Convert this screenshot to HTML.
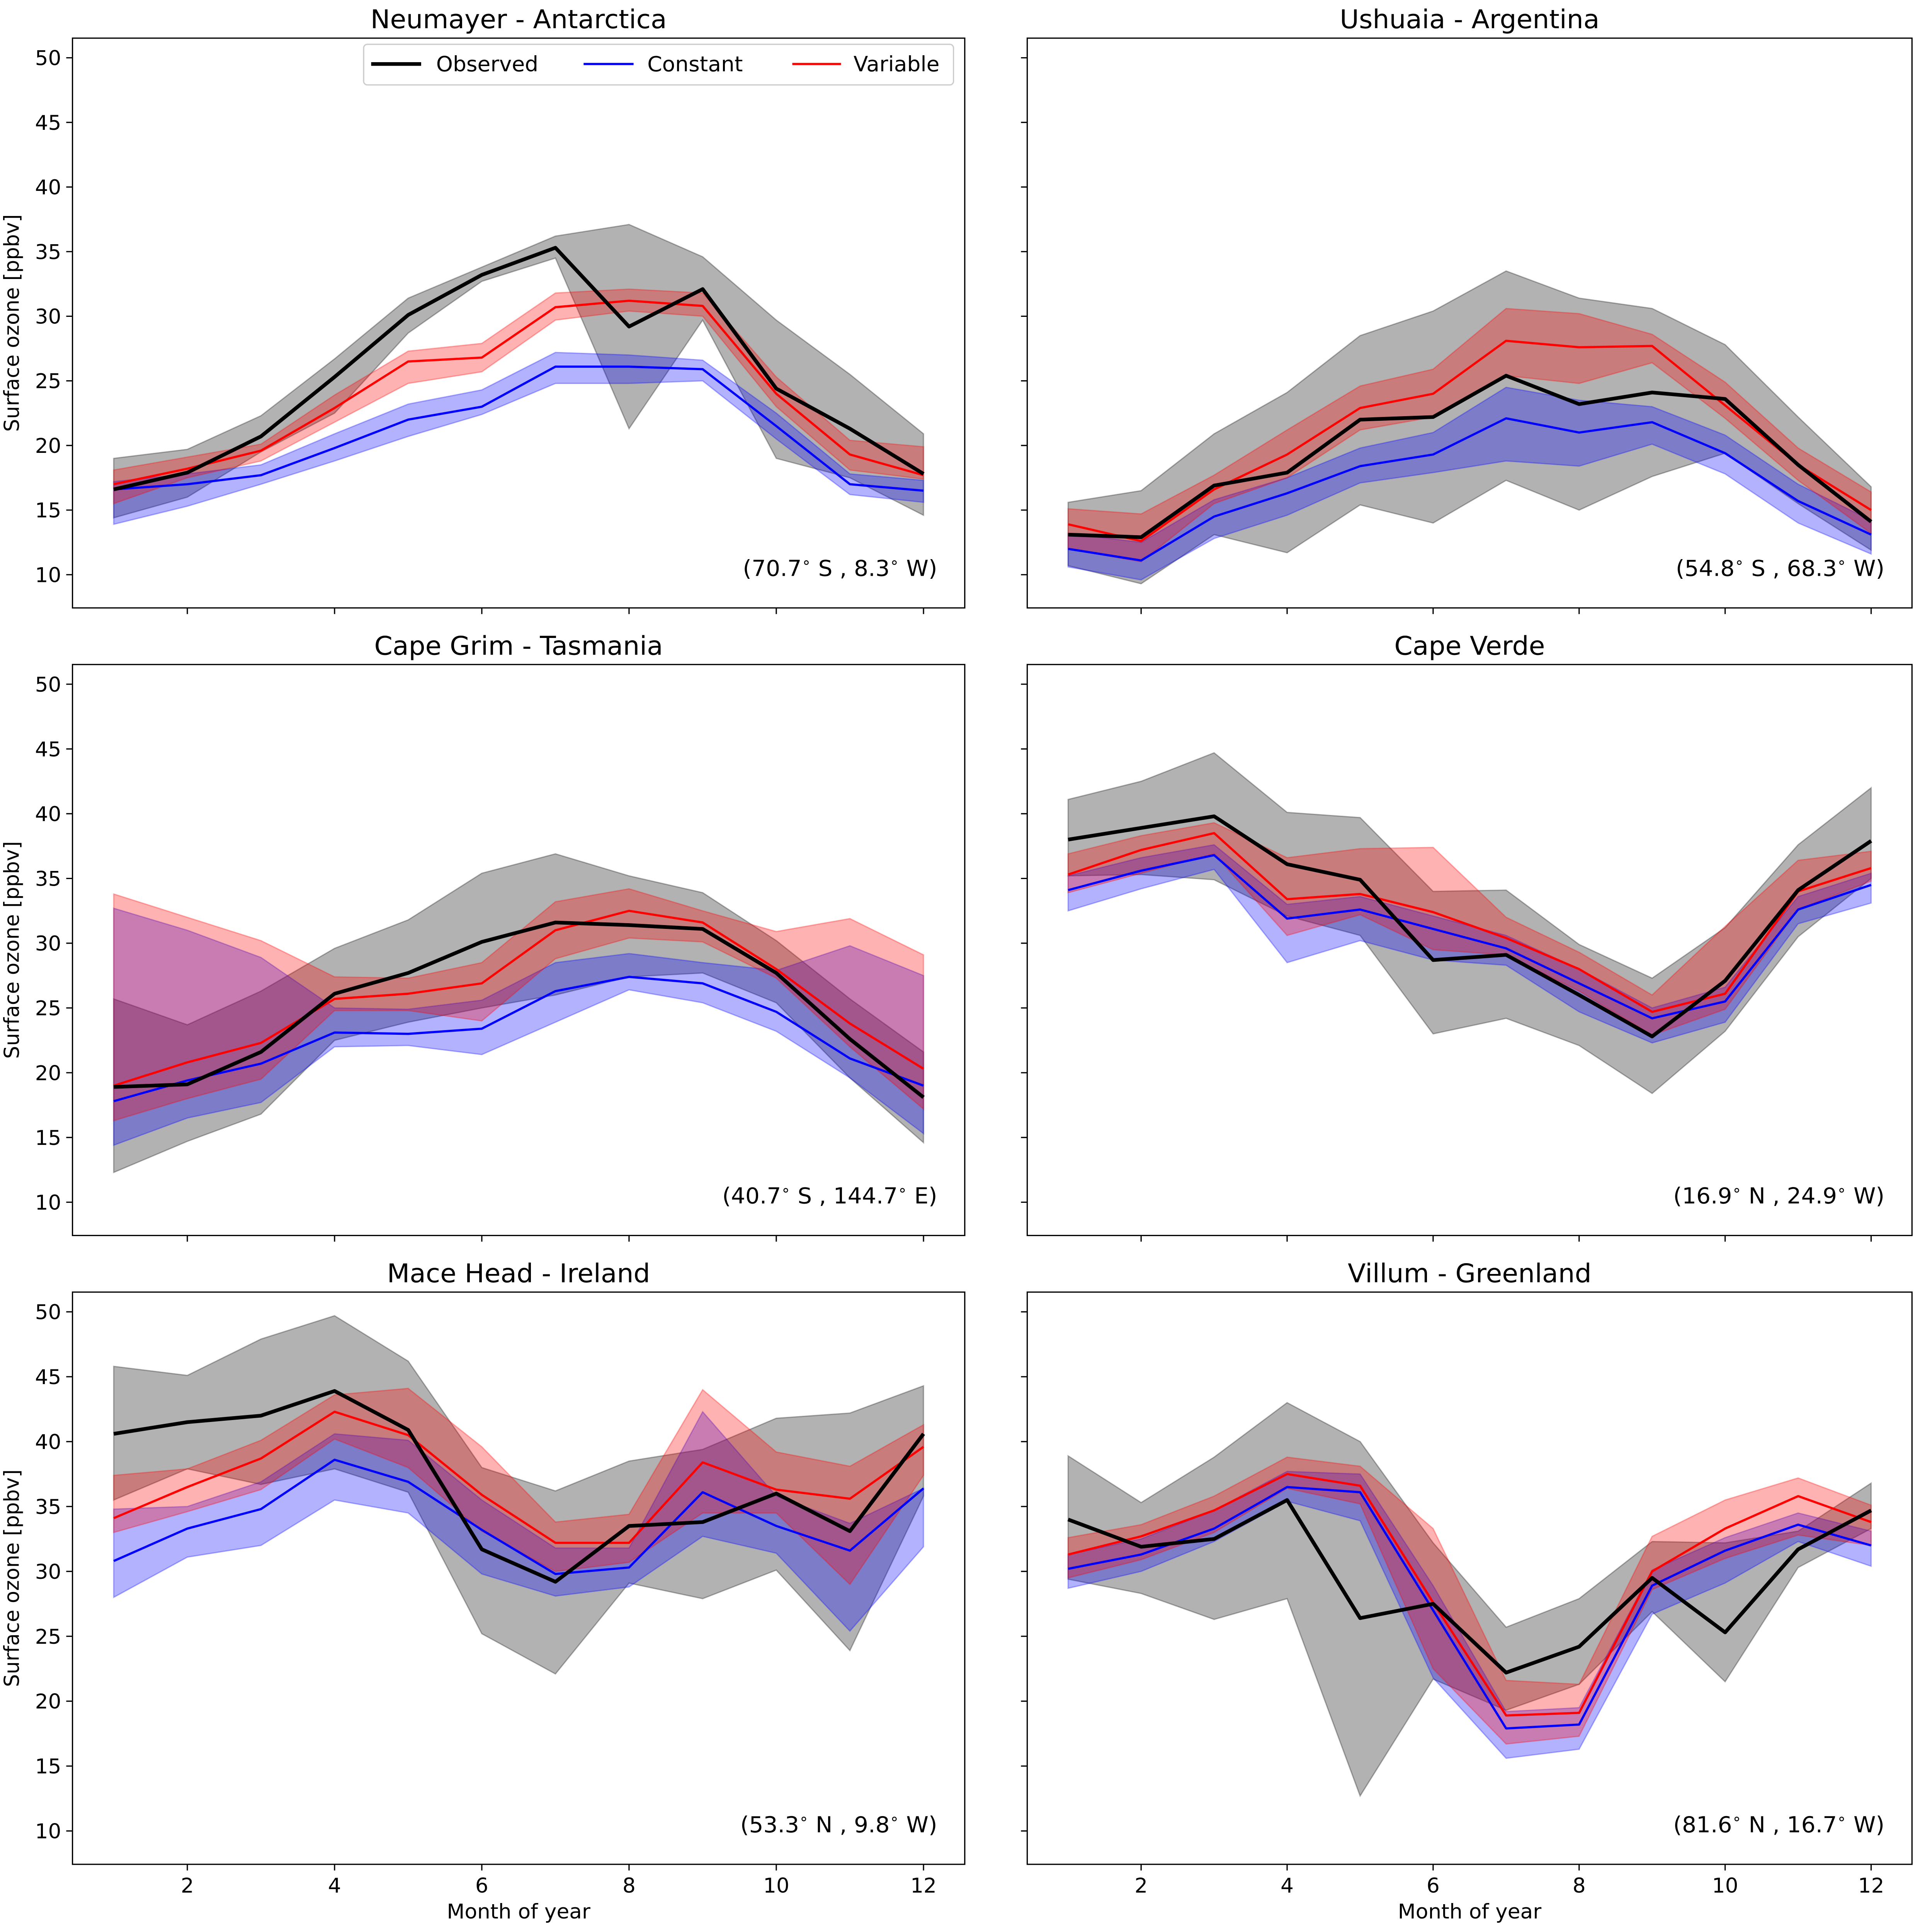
<!DOCTYPE html>
<html><head><meta charset="utf-8">
<style>
html,body{margin:0;padding:0;background:#fff;overflow:hidden;}
svg{display:block;width:100vw;height:100vh;}
text{font-family:"DejaVu Sans","Liberation Sans",sans-serif;fill:#000;}
</style></head>
<body>
<svg id="fig" viewBox="0 0 1546 1570" preserveAspectRatio="none" xmlns="http://www.w3.org/2000/svg"></svg>
<script>
const months=[1,2,3,4,5,6,7,8,9,10,11,12];
const yTicks=[10,15,20,25,30,35,40,45,50];
const xTicks=[2,4,6,8,10,12];
const panelTitles=["Neumayer - Antarctica","Ushuaia - Argentina","Cape Grim - Tasmania","Cape Verde","Mace Head - Ireland","Villum - Greenland"];
const panelCoords=[["70.7","S","8.3","W"],["54.8","S","68.3","W"],["40.7","S","144.7","E"],["16.9","N","24.9","W"],["53.3","N","9.8","W"],["81.6","N","16.7","W"]];

// Neumayer
const neuObs=[16.6,17.9,20.7,25.3,30.1,33.2,35.3,29.2,32.1,24.4,21.3,17.8];
const neuObsHi=[19,19.7,22.3,26.7,31.4,33.8,36.2,37.1,34.6,29.7,25.5,20.9];
const neuObsLo=[14.4,16.0,19.5,22.5,28.7,32.7,34.5,21.3,29.7,19,17.5,14.6];
const neuCon=[16.6,17.0,17.7,19.8,22.0,23.0,26.1,26.1,25.9,21.5,17.0,16.5];
const neuConHi=[17.2,17.8,18.5,20.9,23.2,24.3,27.2,27.0,26.6,22.5,17.8,17.3];
const neuConLo=[13.9,15.3,17.0,18.8,20.7,22.4,24.8,24.8,25.0,20.5,16.2,15.6];
const neuVar=[17.0,18.2,19.6,22.9,26.5,26.8,30.7,31.2,30.8,24.0,19.3,17.7];
const neuVarHi=[18.1,19.1,20.1,23.9,27.3,27.9,31.8,32.1,31.8,25.3,20.4,19.9];
const neuVarLo=[15.5,17.5,18.8,21.8,24.8,25.7,29.7,30.4,30.0,23.0,18.1,17.4];
// Ushuaia
const ushObs=[13.1,12.9,16.9,17.9,22.0,22.2,25.4,23.2,24.1,23.6,18.5,14.1];
const ushObsHi=[15.6,16.5,20.9,24.1,28.5,30.4,33.5,31.4,30.6,27.8,22.2,16.8];
const ushObsLo=[10.7,9.3,13.1,11.7,15.4,14.0,17.3,15.0,17.6,19.4,15.5,11.9];
const ushCon=[12.0,11.1,14.5,16.3,18.4,19.3,22.1,21.0,21.8,19.4,15.7,13.1];
const ushConHi=[13.2,12.5,15.8,17.5,19.8,21.0,24.5,23.5,23.0,20.8,17.0,14.2];
const ushConLo=[10.6,9.6,12.8,14.6,17.1,17.9,18.8,18.4,20.1,17.8,14.0,11.6];
const ushVar=[13.9,12.6,16.6,19.3,22.9,24.0,28.1,27.6,27.7,23.1,18.5,15.0];
const ushVarHi=[15.1,14.7,17.7,21.2,24.6,25.9,30.6,30.2,28.6,24.9,19.8,16.4];
const ushVarLo=[12.0,11.0,15.5,17.5,21.2,22.2,25.4,24.8,26.4,22.1,17.3,13.2];
// Cape Grim
const cgObs=[18.9,19.1,21.6,26.1,27.7,30.1,31.6,31.4,31.1,27.7,22.6,18.1];
const cgObsHi=[25.7,23.7,26.3,29.6,31.8,35.4,36.9,35.2,33.9,30.2,25.7,21.6];
const cgObsLo=[12.3,14.7,16.8,22.5,23.9,25.0,26.0,27.4,27.7,25.4,19.6,14.6];
const cgCon=[17.8,19.4,20.7,23.1,23.0,23.4,26.3,27.4,26.9,24.7,21.1,19.0];
const cgConHi=[32.7,31.0,28.9,25.0,24.9,25.6,28.5,29.2,28.5,27.9,29.8,27.5];
const cgConLo=[14.4,16.5,17.7,22.0,22.1,21.4,23.9,26.4,25.4,23.2,19.6,15.3];
const cgVar=[19.0,20.8,22.3,25.7,26.1,26.9,31.0,32.5,31.6,28.0,23.8,20.3];
const cgVarHi=[33.8,32.0,30.2,27.4,27.3,28.5,33.2,34.2,32.5,30.9,31.9,29.1];
const cgVarLo=[16.3,18.0,19.5,24.8,24.8,24.0,28.8,30.4,30.1,27.3,22.0,17.2];
// Cape Verde
const cvObs=[38.0,38.9,39.8,36.1,34.9,28.7,29.1,26.0,22.8,27.1,34.1,37.9];
const cvObsHi=[41.1,42.5,44.7,40.1,39.7,34.0,34.1,29.9,27.3,31.2,37.6,42.0];
const cvObsLo=[35.2,35.3,34.9,32.1,30.6,23.0,24.2,22.1,18.4,23.2,30.5,35.0];
const cvCon=[34.1,35.6,36.8,31.9,32.6,31.1,29.6,26.9,24.2,25.5,32.6,34.5];
const cvConHi=[35.2,36.6,37.6,33.0,33.6,32.1,30.6,28.0,25.0,26.6,33.6,35.4];
const cvConLo=[32.5,34.2,35.7,28.5,30.2,28.7,28.3,24.7,22.3,23.9,31.5,33.1];
const cvVar=[35.3,37.2,38.5,33.4,33.8,32.4,30.4,28.0,24.7,26.1,34.0,35.8];
const cvVarHi=[36.9,38.3,39.3,36.6,37.3,37.4,32.0,29.3,26.0,31.3,36.4,37.1];
const cvVarLo=[33.9,35.4,36.9,30.6,32.2,29.5,29.1,26.3,22.9,24.9,32.6,34.8];
// Mace Head
const mhObs=[40.6,41.5,42.0,43.9,40.9,31.7,29.2,33.5,33.8,36.0,33.1,40.6];
const mhObsHi=[45.8,45.1,47.9,49.7,46.2,38.0,36.2,38.5,39.4,41.8,42.2,44.3];
const mhObsLo=[35.5,37.9,36.7,37.9,36.1,25.2,22.1,29.1,27.9,30.1,23.9,35.8];
const mhCon=[30.8,33.3,34.8,38.6,36.9,33.2,29.8,30.3,36.1,33.5,31.6,36.4];
const mhConHi=[34.8,35.0,36.9,40.6,40.1,35.5,31.8,31.8,42.3,35.8,33.7,36.4];
const mhConLo=[28.0,31.1,32.0,35.5,34.5,29.8,28.1,28.8,32.7,31.4,25.4,31.9];
const mhVar=[34.1,36.5,38.7,42.3,40.5,35.9,32.2,32.2,38.4,36.3,35.6,39.6];
const mhVarHi=[37.4,37.9,40.1,43.6,44.1,39.6,33.8,34.4,44.0,39.2,38.1,41.3];
const mhVarLo=[33.0,34.6,36.3,40.2,38.0,33.1,30.0,30.7,34.5,34.5,29.0,37.4];
// Villum
const viObs=[34.0,31.9,32.5,35.5,26.4,27.5,22.2,24.2,29.5,25.3,31.7,34.7];
const viObsHi=[38.9,35.3,38.8,43.0,40.0,32.2,25.7,27.9,32.3,32.2,33.1,36.8];
const viObsLo=[29.4,28.3,26.3,27.9,12.7,21.7,19.3,21.3,26.9,21.5,30.3,33.3];
const viCon=[30.2,31.3,33.3,36.5,36.1,27.0,17.9,18.2,28.9,31.6,33.6,32.0];
const viConHi=[31.3,32.5,34.7,37.7,37.5,28.9,19.2,19.5,30.1,32.6,34.5,33.1];
const viConLo=[28.7,30.0,32.3,35.4,33.9,21.8,15.6,16.3,26.7,29.1,32.3,30.4];
const viVar=[31.3,32.7,34.7,37.5,36.6,27.6,18.9,19.1,30.0,33.3,35.8,33.8];
const viVarHi=[32.6,33.6,35.8,38.8,38.1,33.3,21.6,21.3,32.7,35.5,37.2,35.1];
const viVarLo=[29.5,30.9,33.0,36.4,35.2,22.5,16.7,17.3,28.6,31.0,32.8,32.0];

const panels=[
 [neuObs,neuObsHi,neuObsLo,neuCon,neuConHi,neuConLo,neuVar,neuVarHi,neuVarLo],
 [ushObs,ushObsHi,ushObsLo,ushCon,ushConHi,ushConLo,ushVar,ushVarHi,ushVarLo],
 [cgObs,cgObsHi,cgObsLo,cgCon,cgConHi,cgConLo,cgVar,cgVarHi,cgVarLo],
 [cvObs,cvObsHi,cvObsLo,cvCon,cvConHi,cvConLo,cvVar,cvVarHi,cvVarLo],
 [mhObs,mhObsHi,mhObsLo,mhCon,mhConHi,mhConLo,mhVar,mhVarHi,mhVarLo],
 [viObs,viObsHi,viObsLo,viCon,viConHi,viConLo,viVar,viVarHi,viVarLo]
];

const NS="http://www.w3.org/2000/svg";
const svg=document.getElementById('fig');
function mk(tag,attrs,parent){const e=document.createElementNS(NS,tag);for(const k in attrs)e.setAttribute(k,attrs[k]);(parent||svg).appendChild(e);return e;}

const colX=[[58,772],[822,1530]];
const rowY=[[31,494],[540,1004],[1050,1515]];
const XMIN=0.44,XMAX=12.56,YMIN=7.43,YMAX=51.52;

panels.forEach((p,i)=>{
  const c=i%2,r=Math.floor(i/2);
  const [x0,x1]=colX[c],[y0,y1]=rowY[r];
  const xs=v=>x0+(v-XMIN)/(XMAX-XMIN)*(x1-x0);
  const ys=v=>y1-(v-YMIN)/(YMAX-YMIN)*(y1-y0);
  const g=mk('g',{});
  
  
  const clipId='clip'+i;
  const cp=mk('clipPath',{id:clipId},g);mk('rect',{x:x0,y:y0,width:x1-x0,height:y1-y0},cp);
  const plot=mk('g',{'clip-path':'url(#'+clipId+')'},g);
  function band(hi,lo,fill,op,stroke,name){
    let d='M'+months.map((m,k)=>xs(m)+','+ys(hi[k])).join('L');
    d+='L'+months.slice().reverse().map((m,k)=>xs(m)+','+ys(lo[11-k])).join('L')+'Z';
    const e=mk('path',{d:d,fill:fill,'fill-opacity':op,stroke:stroke,'stroke-opacity':op,'stroke-width':1},plot);
    
    
  }
  function line(vals,col,w,name){
    const e=mk('polyline',{points:months.map((m,k)=>xs(m)+','+ys(vals[k])).join(' '),fill:'none',stroke:col,'stroke-width':w,'stroke-linejoin':'round'},plot);
    
    
  }
  band(p[1],p[2],'#000',0.3,'#000','observed-band');
  band(p[4],p[5],'#0000ff',0.3,'#0000ff','constant-band');
  band(p[7],p[8],'#ff0000',0.3,'#ff0000','variable-band');
  line(p[3],'#0000ff',1.8,'constant-line');
  line(p[6],'#ff0000',1.8,'variable-line');
  line(p[0],'#000',3,'observed-line');
  const fr=mk('rect',{x:x0,y:y0,width:x1-x0,height:y1-y0,fill:'none',stroke:'#000','stroke-width':1},g);
  
  
  yTicks.forEach(t=>{
    mk('line',{x1:x0-5,x2:x0,y1:ys(t),y2:ys(t),stroke:'#000','stroke-width':1},g);
    if(c===0){const tx=mk('text',{x:x0-9,y:ys(t)+6,'text-anchor':'end','font-size':16.5},g);tx.textContent=t;
      }
  });
  xTicks.forEach(t=>{
    mk('line',{x1:xs(t),x2:xs(t),y1:y1,y2:y1+5,stroke:'#000','stroke-width':1},g);
    if(r===2){const tx=mk('text',{x:xs(t),y:y1+23,'text-anchor':'middle','font-size':16.5},g);tx.textContent=t;
      }
  });
  const ti=mk('text',{x:(x0+x1)/2,y:y0-8,'text-anchor':'middle','font-size':21},g);ti.textContent=panelTitles[i];
  
  const pc=panelCoords[i];
  const an=mk('text',{x:x1-22,y:y1-26,'text-anchor':'end','font-size':18},g);
  
  an.innerHTML='('+pc[0]+'<tspan dy="-7" font-size="12">∘</tspan><tspan dy="7"> '+pc[1]+' , '+pc[2]+'</tspan><tspan dy="-7" font-size="12">∘</tspan><tspan dy="7"> '+pc[3]+')</tspan>';
  if(c===0){const yl=mk('text',{x:0,y:0,transform:'translate(15,'+((y0+y1)/2)+') rotate(-90)','text-anchor':'middle','font-size':16.5},g);yl.textContent='Surface ozone [ppbv]';
    }
  if(r===2){const xl=mk('text',{x:(x0+x1)/2,y:1559,'text-anchor':'middle','font-size':16.5},g);xl.textContent='Month of year';
    }
});

// legend
const lg=mk('g',{});


mk('rect',{x:291,y:36,width:472,height:33,rx:3,fill:'#fff','fill-opacity':0.85,stroke:'#ccc','stroke-width':1},lg);
[[297,337,349,'#000',3,'Observed'],[467,507,518,'#0000ff',1.8,'Constant'],[634,673,683,'#ff0000',1.8,'Variable']].forEach(e=>{
  const it=mk('g',{},lg);
  
  
  mk('line',{x1:e[0],x2:e[1],y1:52,y2:52,stroke:e[3],'stroke-width':e[4]},it);
  const t=mk('text',{x:e[2],y:58,'font-size':17},it);t.textContent=e[5];
});
</script>
</body></html>
